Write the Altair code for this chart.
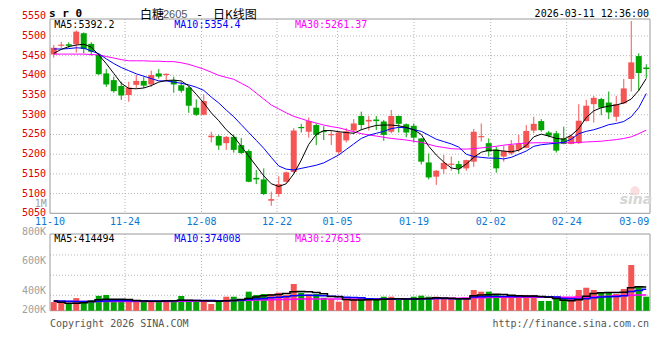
import altair as alt
import pandas as pd

# ---------------- data ----------------
opens = [5453, 5475, 5479, 5479, 5507, 5480, 5452, 5405, 5388, 5373,
         5350, 5376, 5386, 5377, 5405, 5401, 5388, 5375, 5369, 5318,
         5300, 5243, 5246, 5228, 5244, 5223, 5208, 5140, 5136, 5082,
         5099, 5130, 5155, 5269, 5257, 5274, 5259, 5248, 5205, 5235,
         5260, 5297, 5283, 5288, 5283, 5257, 5297, 5276, 5272, 5240,
         5179, 5143, 5162, 5173, 5175, 5164, 5181, 5243, 5228, 5212,
         5194, 5202, 5211, 5216, 5260, 5284, 5255, 5253, 5240, 5226,
         5228, 5284, 5327, 5340, 5331, 5295, 5329, 5391, 5449, 5420]
closes = [5470, 5478, 5475, 5511, 5467, 5460, 5403, 5377, 5360, 5349,
          5369, 5386, 5374, 5401, 5397, 5404, 5377, 5361, 5323, 5300,
          5335, 5247, 5222, 5244, 5211, 5203, 5130, 5136, 5099, 5086,
          5124, 5154, 5260, 5266, 5284, 5249, 5256, 5251, 5255, 5258,
          5278, 5274, 5287, 5284, 5249, 5297, 5277, 5255, 5242, 5181,
          5141, 5158, 5178, 5176, 5164, 5185, 5257, 5246, 5207, 5164,
          5208, 5223, 5226, 5259, 5277, 5261, 5247, 5209, 5226, 5246,
          5285, 5323, 5343, 5318, 5306, 5327, 5367, 5433, 5406, 5416]
highs = [5477, 5485, 5484, 5514, 5509, 5484, 5456, 5416, 5397, 5384,
         5384, 5401, 5397, 5412, 5416, 5405, 5397, 5384, 5372, 5339,
         5352, 5257, 5249, 5246, 5250, 5241, 5212, 5160, 5164, 5105,
         5144, 5156, 5266, 5277, 5293, 5278, 5271, 5259, 5258, 5266,
         5289, 5308, 5297, 5297, 5287, 5312, 5298, 5278, 5278, 5241,
         5202, 5160, 5198, 5194, 5183, 5186, 5264, 5278, 5240, 5219,
         5221, 5236, 5249, 5274, 5295, 5289, 5259, 5259, 5270, 5251,
         5327, 5338, 5348, 5343, 5359, 5348, 5391, 5538, 5456, 5428]
lows = [5445, 5470, 5470, 5458, 5456, 5450, 5401, 5371, 5356, 5338,
        5333, 5367, 5368, 5371, 5392, 5384, 5356, 5356, 5305, 5297,
        5299, 5230, 5211, 5211, 5204, 5200, 5129, 5124, 5096, 5069,
        5092, 5128, 5152, 5255, 5242, 5223, 5236, 5223, 5200, 5230,
        5251, 5261, 5260, 5261, 5234, 5253, 5255, 5243, 5230, 5174,
        5136, 5122, 5150, 5158, 5150, 5158, 5168, 5232, 5194, 5153,
        5181, 5198, 5206, 5215, 5253, 5257, 5243, 5204, 5225, 5225,
        5226, 5283, 5280, 5299, 5289, 5283, 5327, 5359, 5361, 5393]
ma5 = [5456, 5466, 5473, 5477, 5479, 5472, 5452, 5430, 5405, 5380,
       5367, 5366, 5368, 5374, 5383, 5387, 5388, 5386, 5373, 5352,
       5330, 5305, 5285, 5262, 5245, 5220, 5195, 5170, 5145, 5125,
       5118, 5125, 5150, 5185, 5225, 5250, 5260, 5260, 5257, 5255,
       5253, 5262, 5268, 5273, 5274, 5274, 5272, 5268, 5262, 5250,
       5220, 5198, 5180, 5165, 5162, 5175, 5192, 5205, 5210, 5210,
       5208, 5206, 5210, 5222, 5244, 5251, 5246, 5240, 5238, 5248,
       5265, 5293, 5310, 5318, 5322, 5325, 5330, 5340, 5362, 5392]
ma10 = [5467, 5467, 5468, 5470, 5469, 5462, 5455, 5442, 5430, 5420,
        5412, 5404, 5398, 5392, 5386, 5386, 5383, 5380, 5376, 5370,
        5362, 5345, 5330, 5312, 5295, 5275, 5255, 5235, 5215, 5192,
        5170, 5162, 5160, 5164, 5168, 5172, 5178, 5188, 5198, 5212,
        5226, 5240, 5248, 5253, 5258, 5265, 5268, 5267, 5262, 5258,
        5248, 5238, 5232, 5226, 5218, 5200, 5194, 5192, 5190, 5190,
        5188, 5192, 5200, 5208, 5220, 5224, 5226, 5228, 5230, 5238,
        5252, 5258, 5262, 5268, 5275, 5278, 5283, 5295, 5318, 5354]
ma30 = [5454, 5454, 5454, 5454, 5454, 5453, 5452, 5448, 5444, 5440,
        5437, 5437, 5437, 5436, 5436, 5435, 5435, 5432, 5428, 5422,
        5416, 5408, 5400, 5395, 5390, 5380, 5370, 5355, 5340, 5325,
        5315, 5305, 5296, 5290, 5284, 5279, 5274, 5270, 5267, 5262,
        5257, 5252, 5249, 5246, 5243, 5240, 5238, 5236, 5233, 5230,
        5225, 5220, 5217, 5214, 5213, 5213, 5214, 5216, 5218, 5220,
        5223, 5225, 5227, 5228, 5229, 5229, 5229, 5229, 5229, 5229,
        5230, 5231, 5232, 5233, 5235, 5237, 5240, 5244, 5252, 5261]
volume_k = [150, 140, 130, 220, 147, 187, 260, 275, 165, 187,
            187, 158, 158, 158, 158, 170, 187, 257, 158, 158,
            187, 117, 158, 245, 245, 205, 333, 275, 292, 292,
            315, 275, 467, 315, 287, 292, 227, 205, 158, 205,
            205, 234, 187, 205, 245, 245, 187, 187, 245, 263,
            245, 245, 205, 205, 205, 205, 362, 333, 333, 292,
            245, 275, 275, 275, 275, 170, 170, 245, 205, 217,
            362, 402, 362, 310, 315, 292, 380, 800, 432, 245]
vma5_k = [170, 150, 130, 130, 140, 160, 190, 200, 200, 200,
          195, 180, 170, 165, 165, 170, 175, 185, 185, 180,
          175, 170, 165, 175, 180, 195, 215, 240, 260, 275,
          285, 300, 330, 335, 330, 320, 295, 250, 245, 195,
          188, 188, 190, 192, 200, 205, 208, 205, 205, 208,
          215, 225, 222, 218, 210, 210, 260, 275, 280, 290,
          285, 270, 262, 258, 258, 250, 235, 215, 185, 172,
          190, 255, 300, 312, 320, 318, 325, 400, 420, 414]
vma10_k = [170, 170, 165, 160, 160, 160, 165, 170, 175, 175,
           175, 175, 172, 170, 170, 172, 175, 178, 180, 180,
           180, 178, 175, 175, 178, 185, 195, 205, 215, 225,
           235, 245, 260, 270, 270, 265, 260, 255, 250, 235,
           230, 225, 208, 205, 205, 205, 205, 205, 205, 208,
           210, 212, 212, 210, 208, 210, 240, 245, 248, 248,
           248, 248, 248, 248, 248, 246, 244, 238, 215, 208,
           205, 210, 225, 240, 246, 248, 262, 335, 355, 374]
vma30_k = [160, 160, 159, 159, 160, 160, 160, 161, 161, 160,
           160, 160, 160, 160, 160, 161, 162, 164, 166, 168,
           170, 172, 174, 176, 178, 180, 183, 186, 189, 192,
           195, 198, 200, 203, 205, 205, 205, 205, 205, 205,
           205, 205, 205, 205, 205, 206, 207, 208, 209, 210,
           212, 214, 216, 218, 220, 222, 225, 228, 231, 234,
           234, 234, 234, 234, 234, 234, 234, 234, 234, 235,
           238, 241, 245, 250, 255, 260, 265, 270, 274, 276]

price_ticks = [5050, 5100, 5150, 5200, 5250, 5300, 5350, 5400, 5450, 5500, 5550]
price_grid = [5100, 5150, 5200, 5250, 5300, 5350, 5400, 5450, 5500]
date_labels = ["11-10", "11-24", "12-08", "12-22", "01-05", "01-19", "02-02", "02-24", "03-09"]
date_pos = [0, 10, 20.2, 30.27, 38.33, 48.53, 58.76, 68.89, 77.9]
vol_grid = [270000, 620000, 975000]

# ---------------- styling ----------------
RED = "#f45656"
GREEN = "#00a400"
GRID = "#b4b4b4"
BORDER = "#9a9a9a"
MONO = "DejaVu Sans Mono"
CJK = "Noto Sans CJK SC"

n = len(closes)
df = pd.DataFrame({
    "i": list(range(n)), "open": opens, "close": closes, "high": highs, "low": lows,
    "ma5": ma5, "ma10": ma10, "ma30": ma30,
    "vol": [v * 1000 for v in volume_k],
    "vma5": [v * 1000 for v in vma5_k],
    "vma10": [v * 1000 for v in vma10_k],
    "vma30": [v * 1000 for v in vma30_k],
})

XS = alt.Scale(domain=[0, 80], range=[42, 642], nice=False, zero=False)
PY = alt.Scale(domain=[5050, 5543.1], range=[205.3, 11], nice=False, zero=False)
VY = alt.Scale(domain=[0, 1342000], range=[302.7, 226], nice=False, zero=False)
COL = alt.Color("dir:N", scale=alt.Scale(domain=["up", "down"], range=[RED, GREEN]), legend=None)


def X(f):
    return alt.X(f, type="quantitative", scale=XS, axis=None)


def PYe(f):
    return alt.Y(f, type="quantitative", scale=PY, axis=None)


def VYe(f):
    return alt.Y(f, type="quantitative", scale=VY, axis=None)


base = alt.Chart(df).transform_calculate(
    xc="datum.i + 0.5", xl="datum.i + 0.1", xr="datum.i + 0.9",
    lo="min(datum.open, datum.close)", hi="max(datum.open, datum.close)",
    zero="0",
    dir="datum.close >= datum.open ? 'up' : 'down'",
)

one = pd.DataFrame({"k": [0]})


def label(text, x, y, baseline="middle", **kw):
    return alt.Chart(one).mark_text(text=text, baseline=baseline, **kw).encode(
        x=alt.value(x), y=alt.value(y))


def box(y0, y1):
    return alt.Chart(one).mark_rect(fillOpacity=0, stroke=BORDER, strokeWidth=1).encode(
        x=alt.value(42), x2=alt.value(642), y=alt.value(y0), y2=alt.value(y1))


grid_df = pd.DataFrame({"g": date_pos[1:-1]})

# ---------------- price panel ----------------
hgrid = alt.Chart(pd.DataFrame({"p": price_grid})).mark_rule(
    color=GRID, strokeDash=[1, 2], strokeWidth=1).encode(
    y=PYe("p"), x=alt.value(42), x2=alt.value(642))
vgrid = alt.Chart(grid_df).mark_rule(color=GRID, strokeDash=[1, 2], strokeWidth=1).encode(
    x=X("g"), y=alt.value(11), y2=alt.value(205.3))
price_labels = alt.Chart(pd.DataFrame({"p": price_ticks})).mark_text(
    align="right", baseline="middle", font=MONO, fontSize=10, color="#e00000").encode(
    y=PYe("p"), x=alt.value(38), text=alt.Text("p:Q", format="d"))
date_text = alt.Chart(pd.DataFrame({"d": date_labels, "pos": date_pos})).mark_text(
    align="center", baseline="middle", font=MONO, fontSize=10, color="#0a78d2").encode(
    x=X("pos"), y=alt.value(213.6), text="d:N")

wicks = base.mark_rule(strokeWidth=1).encode(x=X("xc"), y=PYe("low"), y2="high:Q", color=COL)
bodies = base.mark_rect().encode(x=X("xl"), x2="xr:Q", y=PYe("lo"), y2="hi:Q", color=COL)
l5 = base.mark_line(color="#000000", strokeWidth=1).encode(x=X("xc"), y=PYe("ma5"))
l10 = base.mark_line(color="#0000ff", strokeWidth=1).encode(x=X("xc"), y=PYe("ma10"))
l30 = base.mark_line(color="#ff00ff", strokeWidth=1).encode(x=X("xc"), y=PYe("ma30"))

watermark = alt.layer(
    alt.Chart(one).mark_point(shape="circle", filled=True, size=90, color="#f6d2d2").encode(
        x=alt.value(627), y=alt.value(183)),
    label("sina", 628, 192, align="center", font="DejaVu Sans", fontSize=14,
          fontWeight="bold", fontStyle="italic", color="#d6d6d6"),
)

main = alt.layer(
    hgrid, vgrid, box(11, 205.3), watermark, wicks, bodies, l30, l10, l5, price_labels, date_text,
    label("MA5:5392.2", 46.3, 16.8, align="left", font=MONO, fontSize=10, color="#000000"),
    label("MA10:5354.4", 166.3, 16.8, align="left", font=MONO, fontSize=10, color="#0000ff"),
    label("MA30:5261.37", 287, 16.8, align="left", font=MONO, fontSize=10, color="#ff00ff"),
    label("1M", 38.7, 196, align="right", font=MONO, fontSize=10, color="#a0a0a0"),
    label("s r 0", 41, 5.5, align="left", font=MONO, fontSize=11,
          fontWeight="bold", color="#000000"),
    label("白糖", 132, 7, align="left", font=CJK, fontSize=12, color="#000000"),
    label("2605", 155, 6.5, align="left", font="Liberation Sans", fontSize=11, color="#555555"),
    label("-", 191.5, 6.5, align="center", font=CJK, fontSize=12, color="#000000"),
    label("日K线图", 205, 7, align="left", font=CJK, fontSize=12, color="#000000"),
    label("2026-03-11 12:36:00", 641, 5.5, align="right", font=MONO, fontSize=10, color="#000000"),
)

# ---------------- volume panel ----------------
vhgrid = alt.Chart(pd.DataFrame({"v": vol_grid})).mark_rule(
    color=GRID, strokeDash=[1, 2], strokeWidth=1).encode(
    y=VYe("v"), x=alt.value(42), x2=alt.value(642))
vvgrid = alt.Chart(grid_df).mark_rule(color=GRID, strokeDash=[1, 2], strokeWidth=1).encode(
    x=X("g"), y=alt.value(226), y2=alt.value(302.7))
vbars = base.mark_rect().encode(x=X("xl"), x2="xr:Q", y=VYe("vol"), y2="zero:Q", color=COL)
v5 = base.mark_line(color="#000000", strokeWidth=1.5, interpolate="step").encode(x=X("xc"), y=VYe("vma5"))
v10 = base.mark_line(color="#0000ff", strokeWidth=1.5, interpolate="step").encode(x=X("xc"), y=VYe("vma10"))
v30 = base.mark_line(color="#ff00ff", strokeWidth=1.5, interpolate="step").encode(x=X("xc"), y=VYe("vma30"))

vol = alt.layer(
    vhgrid, vvgrid, box(226, 302.7), vbars, v30, v10, v5,
    label("MA5:414494", 46.3, 231, align="left", font=MONO, fontSize=10, color="#000000"),
    label("MA10:374008", 166.3, 231, align="left", font=MONO, fontSize=10, color="#0000ff"),
    label("MA30:276315", 287, 231, align="left", font=MONO, fontSize=10, color="#ff00ff"),
    label("800K", 38, 223.5, align="right", font=MONO, fontSize=10, color="#a0a0a0"),
    label("600K", 38, 253, align="right", font=MONO, fontSize=10, color="#a0a0a0"),
    label("400K", 38, 282.7, align="right", font=MONO, fontSize=10, color="#a0a0a0"),
    label("200K", 38, 302, align="right", font=MONO, fontSize=10, color="#a0a0a0"),
    label("Copyright 2026 SINA.COM", 42, 316, align="left", font=MONO, fontSize=10, color="#555555"),
    label("http://finance.sina.com.cn", 641, 316, align="right", font=MONO, fontSize=10, color="#555555"),
)

chart = alt.layer(main, vol).resolve_scale(y="independent").properties(
    width=644, height=344,
    autosize=alt.AutoSizeParams(type="none"),
    padding=0,
    background="#ffffff",
).configure_view(strokeWidth=0)

chart.save("out.html", embed_options={"renderer": "svg", "actions": False})
